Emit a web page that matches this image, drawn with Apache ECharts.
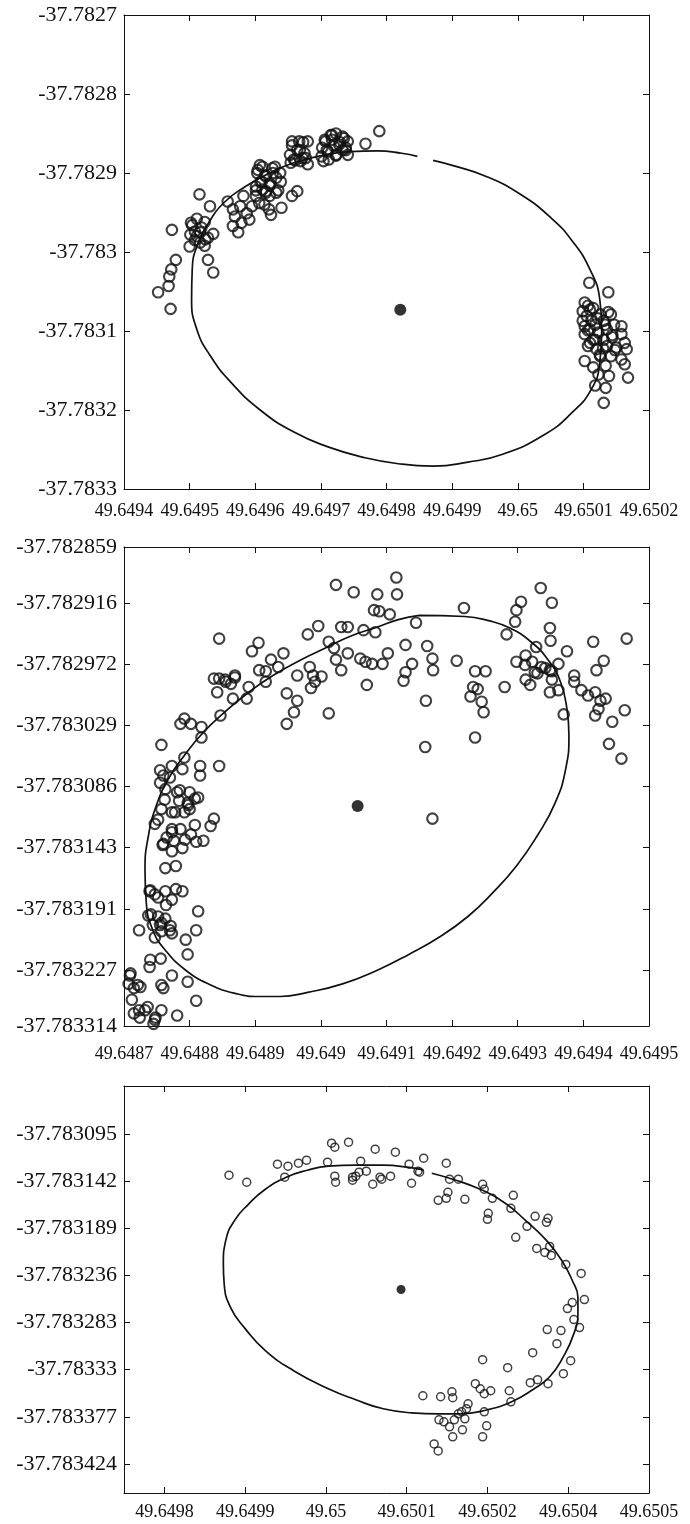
<!DOCTYPE html>
<html>
<head>
<meta charset="utf-8">
<script src="https://cdn.jsdelivr.net/npm/echarts@6/dist/echarts.min.js"></script>
<style>
  html, body { margin: 0; padding: 0; background: #fff; }
  #chart { width: 690px; height: 1524px; }
</style>
</head>
<body>
<div id="chart"></div>
<script>
// ---- Panel 1: longitude / latitude fixes, fitted ellipse and its centre ----
const xTicks1 = [49.6494, 49.6495, 49.6496, 49.6497, 49.6498, 49.6499, 49.65, 49.6501, 49.6502];
const xLabels1 = ['49.6494', '49.6495', '49.6496', '49.6497', '49.6498', '49.6499', '49.65', '49.6501', '49.6502'];
const yTicks1 = [-37.7827, -37.7828, -37.7829, -37.783, -37.7831, -37.7832, -37.7833];
const yLabels1 = ['-37.7827', '-37.7828', '-37.7829', '-37.783', '-37.7831', '-37.7832', '-37.7833'];
const centre1 = [49.649821, -37.783073];
const fixes1 = [
  [49.649452,-37.783051],[49.649471,-37.783072],[49.649468,-37.783043],[49.649469,-37.783031],[49.649472,-37.783022],[49.649479,-37.783010],[49.649473,-37.782972],
  [49.649500,-37.782993],[49.649502,-37.782963],[49.649511,-37.782958],[49.649515,-37.782927],[49.649531,-37.782942],[49.649518,-37.782969],[49.649524,-37.782984],[49.649511,-37.782980],[49.649516,-37.782988],[49.649523,-37.782992],[49.649536,-37.782977],[49.649528,-37.783010],[49.649536,-37.783026],[49.649508,-37.782974],
  [49.649504,-37.782966],[49.649516,-37.782975],[49.649528,-37.782982],[49.649508,-37.782985],[49.649523,-37.782962],[49.649501,-37.782978],
  [49.649558,-37.782936],[49.649566,-37.782946],[49.649569,-37.782955],[49.649566,-37.782967],[49.649574,-37.782975],[49.649579,-37.782963],[49.649577,-37.782942],[49.649587,-37.782951],[49.649591,-37.782959],[49.649582,-37.782929],[49.649601,-37.782929],[49.649595,-37.782942],
  [49.649603,-37.782900],[49.649611,-37.782892],[49.649616,-37.782904],[49.649622,-37.782913],[49.649627,-37.782900],[49.649638,-37.782900],[49.649639,-37.782911],[49.649632,-37.782925],[49.649622,-37.782929],[49.649611,-37.782921],[49.649606,-37.782938],[49.649621,-37.782946],[49.649624,-37.782953],[49.649640,-37.782944],[49.649630,-37.782892],[49.649616,-37.782923],[49.649608,-37.782911],[49.649601,-37.782917],[49.649614,-37.782940],
  [49.649604,-37.782896],[49.649615,-37.782903],[49.649626,-37.782894],[49.649610,-37.782911],[49.649622,-37.782916],[49.649632,-37.782906],[49.649601,-37.782922],[49.649616,-37.782925],[49.649635,-37.782922],[49.649607,-37.782890],
  [49.649656,-37.782929],[49.649664,-37.782923],
  [49.649656,-37.782860],[49.649667,-37.782860],[49.649680,-37.782860],[49.649664,-37.782871],[49.649675,-37.782875],[49.649659,-37.782883],[49.649669,-37.782885],[49.649680,-37.782889],[49.649654,-37.782887],[49.649672,-37.782881],
  [49.649656,-37.782865],[49.649668,-37.782871],[49.649677,-37.782881],[49.649661,-37.782884],[49.649673,-37.782861],[49.649653,-37.782877],
  [49.649707,-37.782860],[49.649715,-37.782852],[49.649723,-37.782850],[49.649733,-37.782854],[49.649741,-37.782860],[49.649709,-37.782871],[49.649720,-37.782866],[49.649728,-37.782864],[49.649738,-37.782868],[49.649701,-37.782879],[49.649712,-37.782883],[49.649723,-37.782877],[49.649741,-37.782877],[49.649704,-37.782885],[49.649717,-37.782858],[49.649733,-37.782871],[49.649768,-37.782863],[49.649789,-37.782847],
  [49.649706,-37.782858],[49.649717,-37.782852],[49.649729,-37.782861],[49.649738,-37.782871],[49.649711,-37.782873],[49.649723,-37.782878],[49.649735,-37.782856],[49.649702,-37.782868],
  [49.650109,-37.783039],[49.650138,-37.783051],[49.650102,-37.783064],[49.650107,-37.783068],[49.650115,-37.783071],[49.650099,-37.783075],[49.650105,-37.783081],[49.650112,-37.783087],[49.650102,-37.783094],[49.650110,-37.783098],[49.650102,-37.783104],[49.650118,-37.783092],[49.650126,-37.783079],[49.650142,-37.783079],[49.650131,-37.783087],[49.650147,-37.783092],[49.650158,-37.783094],[49.650136,-37.783098],[49.650123,-37.783102],[49.650115,-37.783111],[49.650131,-37.783111],[49.650144,-37.783108],[49.650158,-37.783104],[49.650163,-37.783115],[49.650107,-37.783119],[49.650120,-37.783123],[49.650136,-37.783119],[49.650150,-37.783121],[49.650166,-37.783123],[49.650102,-37.783138],[49.650126,-37.783132],[49.650142,-37.783132],[49.650158,-37.783136],[49.650115,-37.783146],[49.650134,-37.783144],[49.650163,-37.783142],[49.650168,-37.783159],[49.650123,-37.783155],[49.650139,-37.783157],[49.650118,-37.783169],[49.650134,-37.783172],[49.650131,-37.783191],[49.650110,-37.783115],[49.650099,-37.783087],
  [49.650110,-37.783073],[49.650122,-37.783084],[49.650133,-37.783092],[49.650144,-37.783105],[49.650118,-37.783111],[49.650130,-37.783122],[49.650148,-37.783124],[49.650107,-37.783099],[49.650138,-37.783076],[49.650125,-37.783130]
];
// outline runs clockwise and leaves a small break near the top
const ellipse1 = [
  [49.649871,-37.782884],[49.649903,-37.782891],[49.649951,-37.782904],[49.650004,-37.782927],[49.650051,-37.782957],[49.650083,-37.782986],[49.650110,-37.783022],[49.650125,-37.783060],[49.650128,-37.783098],[49.650125,-37.783140],[49.650112,-37.783174],[49.650083,-37.783203],[49.650041,-37.783231],[49.649977,-37.783256],[49.649924,-37.783266],[49.649871,-37.783271],[49.649818,-37.783268],[49.649765,-37.783260],[49.649712,-37.783247],[49.649659,-37.783228],[49.649606,-37.783199],[49.649563,-37.783165],[49.649532,-37.783132],[49.649511,-37.783098],[49.649503,-37.783060],[49.649504,-37.783022],[49.649511,-37.782993],[49.649529,-37.782963],[49.649553,-37.782937],[49.649585,-37.782917],[49.649622,-37.782900],[49.649659,-37.782887],[49.649701,-37.782878],[49.649744,-37.782873],[49.649786,-37.782872],[49.649823,-37.782875],[49.649847,-37.782879]
];

// ---- Panel 2 ----
const xTicks2 = [49.6487, 49.6488, 49.6489, 49.649, 49.6491, 49.6492, 49.6493, 49.6494, 49.6495];
const xLabels2 = ['49.6487', '49.6488', '49.6489', '49.649', '49.6491', '49.6492', '49.6493', '49.6494', '49.6495'];
const yTicks2 = [-37.782859, -37.7829122, -37.7829704, -37.7830284, -37.7830863, -37.7831446, -37.7832029, -37.7832608, -37.783314];
const yLabels2 = ['-37.782859', '-37.782916', '-37.782972', '-37.783029', '-37.783086', '-37.783143', '-37.783191', '-37.783227', '-37.783314'];
const centre2 = [49.649056, -37.783105];
const fixes2 = [
  [49.649023,-37.782895],[49.649050,-37.782902],[49.649086,-37.782904],[49.649115,-37.782888],[49.649116,-37.782904],[49.649081,-37.782919],[49.649089,-37.782920],[49.649105,-37.782923],[49.649145,-37.782931],[49.649218,-37.782917],
  [49.649335,-37.782898],[49.649352,-37.782912],[49.649305,-37.782911],[49.649298,-37.782919],[49.649296,-37.782930],[49.649283,-37.782942],[49.649349,-37.782936],[49.649350,-37.782948],[49.649328,-37.782954],[49.649375,-37.782958],
  [49.649415,-37.782949],[49.649466,-37.782946],[49.649431,-37.782967],[49.648996,-37.782934],[49.648980,-37.782942],[49.649031,-37.782935],[49.649041,-37.782935],[49.649065,-37.782938],[49.649083,-37.782940],[49.648845,-37.782946],
  [49.648905,-37.782950],[49.648895,-37.782958],[49.649012,-37.782949],[49.649020,-37.782955],
  [49.649041,-37.782960],[49.649060,-37.782965],[49.649068,-37.782968],[49.649078,-37.782970],[49.649094,-37.782970],[49.649102,-37.782960],[49.649129,-37.782952],[49.649162,-37.782953],[49.649170,-37.782965],[49.649171,-37.782976],
  [49.649139,-37.782970],[49.649129,-37.782978],[49.649126,-37.782986],[49.649070,-37.782990],[49.649031,-37.782976],[49.649023,-37.782966],[49.648983,-37.782973],[49.648988,-37.782981],[49.649001,-37.782982],[49.648991,-37.782987],
  [49.648985,-37.782993],[49.648964,-37.782981],[49.648948,-37.782998],[49.648964,-37.783005],[49.648959,-37.783016],[49.648948,-37.783027],[49.649012,-37.783017],[49.648943,-37.782960],[49.648924,-37.782966],[49.648935,-37.782973],
  [49.648916,-37.782977],[49.648906,-37.782976],[49.648916,-37.782987],[49.648890,-37.782992],[49.648887,-37.783003],[49.648869,-37.782981],[49.648863,-37.782989],[49.648855,-37.782987],[49.648845,-37.782984],[49.648837,-37.782984],
  [49.648842,-37.782997],[49.648866,-37.783003],[49.648847,-37.783019],[49.649160,-37.783005],[49.649159,-37.783049],[49.649207,-37.782967],[49.649235,-37.782977],[49.649251,-37.782977],[49.649232,-37.782992],[49.649239,-37.782994],
  [49.648854,-37.782985],[49.648869,-37.782983],
  [49.649228,-37.783001],[49.649245,-37.783006],[49.649248,-37.783016],[49.649280,-37.782992],[49.649235,-37.783040],[49.649298,-37.782968],[49.649312,-37.782962],[49.649322,-37.782968],[49.649336,-37.782973],[49.649349,-37.782976],
  [49.649362,-37.782970],[49.649312,-37.782985],[49.649330,-37.782979],[49.649349,-37.782997],[49.649362,-37.782995],[49.649370,-37.783018],[49.649386,-37.782981],[49.649386,-37.782987],[49.649397,-37.782995],[49.649407,-37.783000],
  [49.649418,-37.782997],[49.649420,-37.782976],[49.649426,-37.783005],[49.649434,-37.783003],[49.649423,-37.783013],[49.649418,-37.783019],[49.649444,-37.783025],[49.649463,-37.783014],[49.649439,-37.783046],[49.649458,-37.783060],
  [49.649311,-37.782971],[49.649326,-37.782978],[49.649342,-37.782974],[49.649352,-37.782985],[49.649319,-37.782990],
  [49.649352,-37.782977],[49.649170,-37.783117],
  [49.648792,-37.783022],[49.648786,-37.783027],[49.648802,-37.783027],[49.648818,-37.783030],[49.648818,-37.783040],[49.648757,-37.783047],[49.648792,-37.783059],[49.648773,-37.783067],[49.648789,-37.783070],[49.648816,-37.783067],
  [49.648816,-37.783076],[49.648845,-37.783067],[49.648760,-37.783076],[49.648755,-37.783083],[49.648763,-37.783089],[49.648781,-37.783092],[49.648800,-37.783092],[49.648784,-37.783100],[49.648797,-37.783102],[49.648808,-37.783098],
  [49.648813,-37.783097],[49.648757,-37.783108],[49.648773,-37.783111],[49.648792,-37.783111],[49.648800,-37.783108],[49.648837,-37.783117],[49.648832,-37.783124],[49.648747,-37.783122],[49.648773,-37.783127],[49.648786,-37.783127],
  [49.648802,-37.783132],[49.648765,-37.783135],[49.648776,-37.783138],[49.648760,-37.783141],[49.648789,-37.783145],[49.648810,-37.783139],[49.648821,-37.783138],[49.648773,-37.783148],[49.648763,-37.783164],[49.648779,-37.783162],
  [49.648755,-37.783071],[49.648770,-37.783078],[49.648785,-37.783090],[49.648762,-37.783099],[49.648778,-37.783111],[49.648798,-37.783104],[49.648752,-37.783118],[49.648773,-37.783130],[49.648793,-37.783137],[49.648808,-37.783123],[49.648759,-37.783142],
  [49.648739,-37.783186],[49.648747,-37.783189],[49.648763,-37.783186],[49.648779,-37.783184],[49.648789,-37.783186],[49.648773,-37.783194],[49.648813,-37.783205],[49.648741,-37.783208],[49.648752,-37.783210],[49.648763,-37.783212],
  [49.648740,-37.783185],[49.648752,-37.783192],[49.648764,-37.783199],[49.648737,-37.783209],[49.648755,-37.783218],[49.648770,-37.783223],[49.648747,-37.783230],
  [49.648744,-37.783218],[49.648757,-37.783216],[49.648771,-37.783219],[49.648723,-37.783223],[49.648757,-37.783224],[49.648773,-37.783226],[49.648810,-37.783223],[49.648794,-37.783232],[49.648797,-37.783246],[49.648740,-37.783251],
  [49.648756,-37.783250],[49.648739,-37.783258],[49.648773,-37.783266],[49.648797,-37.783272],[49.648710,-37.783264],[49.648707,-37.783274],[49.648715,-37.783278],[49.648725,-37.783277],[49.648757,-37.783275],[49.648760,-37.783278],
  [49.648709,-37.783266],[49.648721,-37.783275],[49.648712,-37.783289],[49.648732,-37.783299],[49.648747,-37.783308],[49.648724,-37.783306],
  [49.648810,-37.783290],[49.648723,-37.783299],[49.648736,-37.783296],[49.648757,-37.783299],[49.648715,-37.783302],[49.648781,-37.783304],[49.648748,-37.783306],[49.648745,-37.783312]
];
const ellipse2 = [
  [49.649150,-37.782924],[49.649219,-37.782925],[49.649256,-37.782929],[49.649288,-37.782936],[49.649320,-37.782949],[49.649346,-37.782966],[49.649365,-37.782987],[49.649375,-37.783013],[49.649378,-37.783038],[49.649373,-37.783070],
  [49.649357,-37.783102],[49.649330,-37.783133],[49.649298,-37.783162],[49.649261,-37.783188],[49.649224,-37.783210],[49.649182,-37.783229],[49.649134,-37.783246],[49.649086,-37.783261],[49.649033,-37.783274],[49.648980,-37.783282],
  [49.648938,-37.783286],[49.648906,-37.783286],[49.648869,-37.783283],[49.648832,-37.783275],[49.648794,-37.783261],[49.648763,-37.783242],[49.648744,-37.783223],[49.648734,-37.783197],[49.648732,-37.783165],[49.648737,-37.783134],
  [49.648749,-37.783105],[49.648768,-37.783079],[49.648792,-37.783057],[49.648821,-37.783035],[49.648853,-37.783016],[49.648890,-37.782997],[49.648927,-37.782981],[49.648970,-37.782966],[49.649007,-37.782955],[49.649044,-37.782944],
  [49.649086,-37.782935],[49.649118,-37.782928],[49.649150,-37.782924]
];

// ---- Panel 3 ----
const xTicks3 = [49.6498, 49.6499, 49.65, 49.6501, 49.6502, 49.6503, 49.6504];
const xLabels3 = ['49.6498', '49.6499', '49.65', '49.6501', '49.6502', '49.6504', '49.6505'];
const yTicks3 = [-37.783095, -37.783142, -37.783189, -37.783236, -37.783283, -37.78333, -37.783377, -37.783424];
const yLabels3 = ['-37.783095', '-37.783142', '-37.783189', '-37.783236', '-37.783283', '-37.78333', '-37.783377', '-37.783424'];
const centre3 = [49.650093, -37.783250];
const fixes3 = [
  [49.649880,-37.783136],[49.649902,-37.783143],[49.649940,-37.783125],[49.649953,-37.783127],[49.649966,-37.783124],[49.649976,-37.783121],[49.650002,-37.783123],[49.649949,-37.783138],[49.650007,-37.783104],[49.650011,-37.783108],
  [49.650028,-37.783103],[49.650061,-37.783110],[49.650086,-37.783113],[49.650121,-37.783119],[49.650149,-37.783124],[49.650043,-37.783122],[49.650050,-37.783132],[49.650041,-37.783133],[49.650037,-37.783137],[49.650033,-37.783141],
  [49.650033,-37.783138],[49.650011,-37.783137],[49.650012,-37.783143],[49.650058,-37.783145],[49.650067,-37.783138],[49.650069,-37.783140],[49.650080,-37.783137],[49.650103,-37.783125],[49.650106,-37.783144],[49.650114,-37.783132],
  [49.650116,-37.783133],
  [49.650153,-37.783140],[49.650164,-37.783140],[49.650151,-37.783153],[49.650149,-37.783159],[49.650139,-37.783161],[49.650172,-37.783160],[49.650194,-37.783145],[49.650196,-37.783150],[49.650206,-37.783159],[49.650232,-37.783156],
  [49.650229,-37.783169],[49.650201,-37.783174],[49.650200,-37.783180],[49.650235,-37.783198],[49.650249,-37.783187],[49.650259,-37.783177],[49.650275,-37.783179],[49.650273,-37.783183],[49.650261,-37.783209],[49.650277,-37.783207],
  [49.650271,-37.783213],[49.650279,-37.783216],[49.650297,-37.783225],[49.650316,-37.783234],
  [49.650305,-37.783263],[49.650320,-37.783260],[49.650299,-37.783269],[49.650307,-37.783280],[49.650314,-37.783288],[49.650274,-37.783290],[49.650291,-37.783291],[49.650286,-37.783304],[49.650256,-37.783313],[49.650303,-37.783321],
  [49.650294,-37.783334],[49.650275,-37.783344],[49.650262,-37.783340],[49.650253,-37.783343],[49.650225,-37.783328],[49.650194,-37.783320],[49.650227,-37.783351],[49.650229,-37.783362],[49.650185,-37.783344],[49.650191,-37.783349],
  [49.650196,-37.783354],[49.650204,-37.783351],[49.650196,-37.783372],[49.650199,-37.783386],[49.650194,-37.783397],
  [49.650120,-37.783356],[49.650142,-37.783357],[49.650156,-37.783352],[49.650157,-37.783358],[49.650164,-37.783374],[49.650168,-37.783372],[49.650174,-37.783369],[49.650176,-37.783364],[49.650172,-37.783379],[49.650159,-37.783380],
  [49.650169,-37.783390],[49.650140,-37.783380],[49.650146,-37.783382],[49.650153,-37.783387],[49.650157,-37.783397],[49.650134,-37.783404],[49.650139,-37.783411]
];
const ellipse3 = [
  [49.650131,-37.783134],[49.650157,-37.783140],[49.650191,-37.783150],[49.650222,-37.783164],[49.650247,-37.783181],[49.650273,-37.783201],[49.650292,-37.783221],[49.650305,-37.783241],[49.650312,-37.783258],[49.650312,-37.783274],
  [49.650307,-37.783294],[49.650294,-37.783317],[49.650277,-37.783337],[49.650256,-37.783350],[49.650230,-37.783362],[49.650200,-37.783370],[49.650166,-37.783374],[49.650140,-37.783374],[49.650106,-37.783373],[49.650071,-37.783369],
  [49.650037,-37.783360],[49.650003,-37.783349],[49.649960,-37.783331],[49.649925,-37.783311],[49.649900,-37.783289],[49.649882,-37.783268],[49.649874,-37.783244],[49.649873,-37.783224],[49.649876,-37.783201],[49.649887,-37.783181],
  [49.649904,-37.783165],[49.649925,-37.783150],[49.649951,-37.783138],[49.649977,-37.783131],[49.650003,-37.783127],[49.650037,-37.783126],[49.650071,-37.783126],[49.650101,-37.783128],[49.650121,-37.783131]
];

// ---- shared styling ----
const INK = '#111';
const SERIF = '"Liberation Serif", "Times New Roman", serif';

function pickLabel(ticks, labels) {
  return function (v) {
    for (let i = 0; i < ticks.length; i++) {
      if (Math.abs(ticks[i] - v) < 1e-9) return labels[i];
    }
    return '';
  };
}

function xPair(grid, min, max, ticks, labels, margin) {
  const line = { show: true, onZero: false, lineStyle: { color: INK, width: 1 } };
  const tick = { show: true, inside: true, length: 6, customValues: ticks, lineStyle: { color: INK, width: 1 } };
  return [
    { type: 'value', gridIndex: grid, position: 'bottom', min: min, max: max,
      axisLine: line, axisTick: tick, splitLine: { show: false },
      axisLabel: { show: true, customValues: ticks, formatter: pickLabel(ticks, labels),
        fontFamily: SERIF, fontSize: 18, color: INK, margin: margin } },
    { type: 'value', gridIndex: grid, position: 'top', min: min, max: max,
      axisLine: line, axisTick: tick, splitLine: { show: false }, axisLabel: { show: false } }
  ];
}

function yPair(grid, min, max, ticks, labels) {
  const line = { show: true, onZero: false, lineStyle: { color: INK, width: 1 } };
  const tick = { show: true, inside: true, length: 6, customValues: ticks, lineStyle: { color: INK, width: 1 } };
  return [
    { type: 'value', gridIndex: grid, position: 'left', min: min, max: max,
      axisLine: line, axisTick: tick, splitLine: { show: false },
      axisLabel: { show: true, customValues: ticks, formatter: pickLabel(ticks, labels),
        fontFamily: SERIF, fontSize: 22, color: INK, margin: 7 } },
    { type: 'value', gridIndex: grid, position: 'right', min: min, max: max,
      axisLine: line, axisTick: tick, splitLine: { show: false }, axisLabel: { show: false } }
  ];
}

function panelSeries(axis, fixes, outline, centre, ring, dot) {
  return [
    { type: 'line', xAxisIndex: axis, yAxisIndex: axis, data: outline, smooth: true,
      showSymbol: false, symbol: 'none', lineStyle: { color: INK, width: 1.7 }, z: 2 },
    { type: 'scatter', xAxisIndex: axis, yAxisIndex: axis, data: fixes, symbol: 'circle',
      symbolSize: ring.size, itemStyle: { color: 'rgba(0,0,0,0)', borderColor: INK, borderWidth: ring.width }, z: 3 },
    { type: 'scatter', xAxisIndex: axis, yAxisIndex: axis, data: [centre], symbol: 'circle',
      symbolSize: dot, itemStyle: { color: '#000' }, z: 4 }
  ];
}

const chart = echarts.init(document.getElementById('chart'), null, { renderer: 'canvas' });
chart.setOption({
  animation: false,
  backgroundColor: '#fff',
  grid: [
    { left: 124, top: 15, width: 525, height: 474 },
    { left: 124, top: 547, width: 525, height: 479 },
    { left: 124, top: 1086, width: 525, height: 407 }
  ],
  xAxis: [].concat(
    xPair(0, 49.6494, 49.6502, xTicks1, xLabels1, 13),
    xPair(1, 49.6487, 49.6495, xTicks2, xLabels2, 19),
    xPair(2, 49.64975, 49.6504, xTicks3, xLabels3, 10)
  ),
  yAxis: [].concat(
    yPair(0, -37.7833, -37.7827, yTicks1, yLabels1),
    yPair(1, -37.783314, -37.782859, yTicks2, yLabels2),
    yPair(2, -37.783453, -37.783047, yTicks3, yLabels3)
  ),
  series: [].concat(
    panelSeries(0, fixes1, ellipse1, centre1, { size: 10.5, width: 2.1 }, 12),
    panelSeries(2, fixes2, ellipse2, centre2, { size: 10.5, width: 2.1 }, 12),
    panelSeries(4, fixes3, ellipse3, centre3, { size: 8, width: 1.5 }, 9)
  )
});
</script>
</body>
</html>
